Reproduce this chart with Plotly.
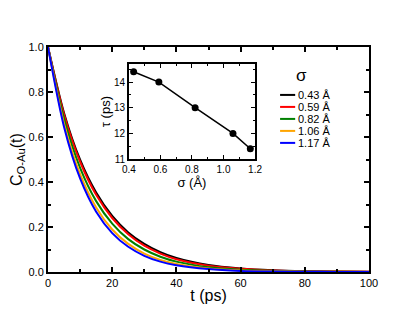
import plotly.graph_objects as go

# main panel: C_O-Au(t)
t = [0, 5, 10, 15, 20, 25, 30, 35, 40, 50, 60, 70, 80, 90, 100]
c_043 = [1.0, 0.707, 0.499, 0.353, 0.249, 0.176, 0.125, 0.088, 0.062, 0.031, 0.016, 0.008, 0.004, 0.002, 0.001]
c_059 = [1.0, 0.700, 0.490, 0.343, 0.240, 0.168, 0.117, 0.082, 0.057, 0.028, 0.014, 0.007, 0.003, 0.002, 0.001]
c_082 = [1.0, 0.681, 0.463, 0.315, 0.215, 0.146, 0.100, 0.068, 0.046, 0.021, 0.010, 0.005, 0.002, 0.001, 0.0005]
c_106 = [1.0, 0.659, 0.435, 0.287, 0.189, 0.125, 0.082, 0.054, 0.036, 0.016, 0.007, 0.003, 0.001, 0.0006, 0.0002]
c_117 = [1.0, 0.645, 0.416, 0.268, 0.173, 0.112, 0.072, 0.046, 0.030, 0.013, 0.005, 0.002, 0.001, 0.0004, 0.0002]

curves = [c_043, c_059, c_082, c_106, c_117]
names = ["0.43 Å", "0.59 Å", "0.82 Å", "1.06 Å", "1.17 Å"]
colors = ["black", "red", "green", "orange", "blue"]

# inset: tau vs sigma
sigma = [0.43, 0.59, 0.82, 1.06, 1.17]
tau = [14.4, 14.0, 13.0, 12.0, 11.4]

font = "Liberation Sans, Arial, sans-serif"

fig = go.Figure()
for y, name, col in zip(curves, names, colors):
    fig.add_trace(go.Scatter(x=t, y=y, name=name, mode="lines", showlegend=False,
                             line=dict(color=col, width=2, shape="spline", smoothing=0.8)))

fig.add_trace(go.Scatter(x=sigma, y=tau, mode="lines+markers", showlegend=False,
                         line=dict(color="black", width=1.5),
                         marker=dict(color="black", size=7),
                         xaxis="x2", yaxis="y2"))

# hand-made legend (plotly's own rows are too tall for this spacing)
leg_x0, leg_x1, leg_y0, leg_dy = 0.723, 0.770, 0.787, 0.0533
fig.add_annotation(x=0.79, y=0.872, xref="paper", yref="paper", text="σ",
                   showarrow=False, xanchor="center", yanchor="middle", font=dict(size=17))
for i, (name, col) in enumerate(zip(names, colors)):
    yy = leg_y0 - i * leg_dy
    fig.add_shape(type="line", xref="paper", yref="paper", x0=leg_x0, x1=leg_x1,
                  y0=yy, y1=yy, line=dict(color=col, width=2))
    fig.add_annotation(x=leg_x1 + 0.004, y=yy, xref="paper", yref="paper", text=name,
                       showarrow=False, xanchor="left", yanchor="middle", font=dict(size=11))

# y title placed by hand so it sits where the original has it
fig.add_annotation(x=-0.095, y=0.5, xref="paper", yref="paper", text="C<sub>O-Au</sub>(t)",
                   showarrow=False, textangle=-90, xanchor="center", yanchor="middle",
                   font=dict(size=16))

axis_common = dict(showline=True, linecolor="black", mirror="ticks", ticks="inside",
                   tickcolor="black", showgrid=False, zeroline=False)

# page body has an 8px margin, so the figure is 8px smaller and margins shifted
fig.update_layout(
    width=407, height=313,
    margin=dict(l=40, r=46, t=39, b=49),
    plot_bgcolor="white", paper_bgcolor="white",
    font=dict(family=font, size=11, color="black"),
    xaxis=dict(range=[0, 100], dtick=20, linewidth=2, tickwidth=1.5, ticklen=5,
               minor=dict(dtick=10, ticks="inside", ticklen=3, tickcolor="black"),
               title=dict(text="t (ps)", font=dict(size=16), standoff=2),
               **axis_common),
    yaxis=dict(range=[0, 1], dtick=0.2, tickformat=".1f", linewidth=2, tickwidth=1.5, ticklen=5,
               minor=dict(dtick=0.1, ticks="inside", ticklen=3, tickcolor="black"),
               **axis_common),
    xaxis2=dict(domain=[0.252, 0.645], anchor="y2", range=[0.4, 1.2], dtick=0.2,
                tickformat=".1f", linewidth=1.5, ticklen=4, tickfont=dict(size=10),
                minor=dict(dtick=0.1, ticks="inside", ticklen=2, tickcolor="black"),
                title=dict(text="σ (Å)", font=dict(size=13), standoff=2),
                **axis_common),
    yaxis2=dict(domain=[0.502, 0.924], anchor="x2", range=[11, 14.7], dtick=1,
                linewidth=1.5, ticklen=4, tickfont=dict(size=10),
                minor=dict(dtick=0.5, ticks="inside", ticklen=2, tickcolor="black"),
                title=dict(text="τ (ps)", font=dict(size=13), standoff=0),
                **axis_common),
    showlegend=False,
)

fig.write_html("out.html")
